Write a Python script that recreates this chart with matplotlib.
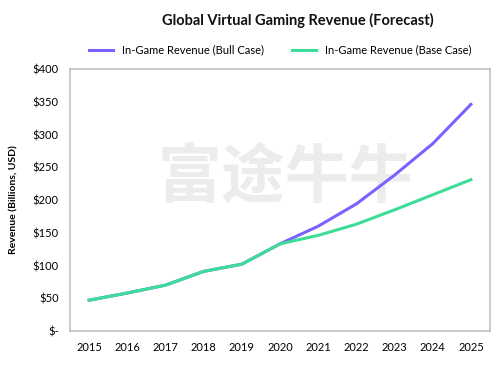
import matplotlib.pyplot as plt

# Datos
years = ['2015', '2016', '2017', '2018', '2019', '2020', '2021', '2022', '2023', '2024', '2025']
bull_case = [47, 58, 70, 91, 102, 133, 160, 194, 238, 286, 346]
base_case = [47, 58, 70, 91, 102, 133, 146, 163, 185, 208, 231]
y_ticks = [0, 50, 100, 150, 200, 250, 300, 350, 400]
y_labels = ['$-', '$50', '$100', '$150', '$200', '$250', '$300', '$350', '$400']

plt.rcParams['font.family'] = ['Lato', 'Noto Sans CJK SC', 'DejaVu Sans']

fig = plt.figure(figsize=(5.04, 3.68), dpi=100)
ax = fig.add_axes([70 / 504, 1 - 331 / 368, 420 / 504, 262 / 368])

x = list(range(len(years)))
ax.plot(x, bull_case, color='#7B61FF', lw=2.2, label='In-Game Revenue (Bull Case)', zorder=3)
ax.plot(x, base_case, color='#3DDC97', lw=2.2, label='In-Game Revenue (Base Case)', zorder=3)

# Marca de agua (detras de las lineas)
ax.text(285 / 504, 1 - 178 / 368, '富途牛牛', fontsize=46, color='#ececec',
        ha='center', va='center', zorder=0, family=['Noto Sans CJK SC'], fontweight='bold',
        transform=fig.transFigure)

ax.set_xlim(-0.5, 10.5)
ax.set_ylim(0, 400)
ax.set_xticks(x)
ax.set_xticklabels(years, fontsize=8)
ax.set_yticks(y_ticks)
ax.set_yticklabels(y_labels, fontsize=8)
ax.tick_params(length=0, pad=8)
for s in ax.spines.values():
    s.set_color('#c0c0c8')
    s.set_linewidth(1.2)

ax.set_ylabel('Revenue (Billions, USD)', fontsize=7.5, fontweight='bold', labelpad=10)
fig.text(298 / 504, 1 - 20 / 368, 'Global Virtual Gaming Revenue (Forecast)', ha='center', va='center',
         fontsize=10.5, fontweight='bold', color='#111111')
fig.legend(loc='center', bbox_to_anchor=(280 / 504, 1 - 50 / 368), ncol=2, frameon=False,
           fontsize=8, handlelength=2.2, columnspacing=2.5)

fig.savefig('out.png', dpi=100)
